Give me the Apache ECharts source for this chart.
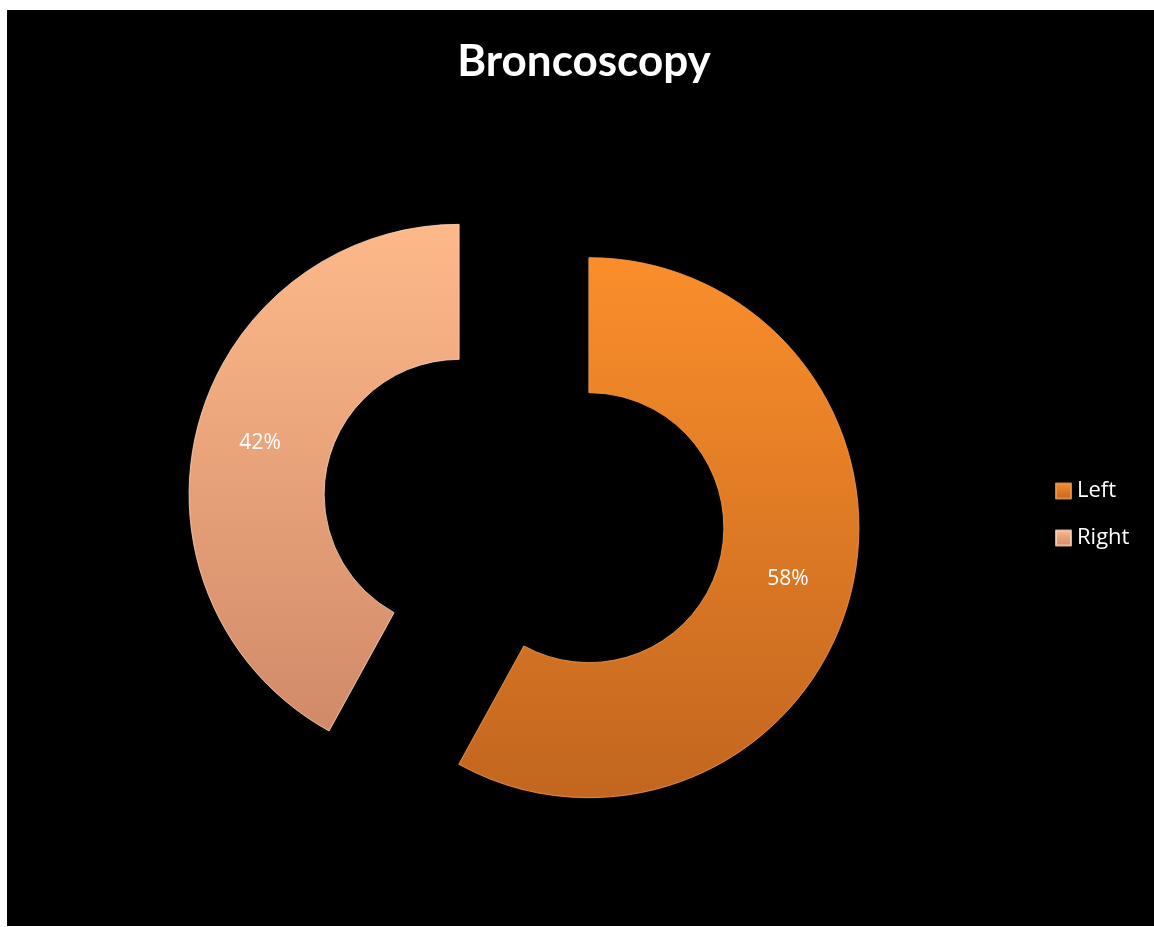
<!DOCTYPE html>
<html>
<head>
<meta charset="utf-8">
<title>Broncoscopy</title>
<script src="https://cdn.jsdelivr.net/npm/echarts@6/dist/echarts.min.js"></script>
<style>
  html, body { margin: 0; padding: 0; background: #fff; }
  #chart { width: 1154px; height: 927px; }
</style>
</head>
<body>
<div id="chart"></div>
<script>
// Bronchoscopy side distribution
const categories = ['Left', 'Right'];
const shares = [58, 42];

const fills = {
  Left:  { top: '#FA8E2B', bottom: '#C2661F', edge: 'rgba(240,150,80,0.85)' },
  Right: { top: '#FDB98A', bottom: '#D18A68', edge: 'rgba(255,215,185,0.8)' }
};

function gradient(c) {
  return new echarts.graphic.LinearGradient(0, 0, 0, 1, [
    { offset: 0, color: c.top },
    { offset: 1, color: c.bottom }
  ]);
}

const chart = echarts.init(document.getElementById('chart'), null, { renderer: 'canvas' });

chart.setOption({
  backgroundColor: '#ffffff',
  animation: false,
  graphic: [{
    type: 'rect',
    z: -10,
    silent: true,
    shape: { x: 7, y: 10, width: 1147, height: 916 },
    style: { fill: '#000000' }
  }],
  title: {
    text: 'Broncoscopy',
    left: 579,
    textAlign: 'center',
    top: 35,
    textStyle: {
      color: '#ffffff',
      fontFamily: 'Lato, "Open Sans", sans-serif',
      fontWeight: 'bold',
      fontSize: 44
    }
  },
  legend: {
    orient: 'vertical',
    left: 1050,
    top: 475,
    itemWidth: 15,
    itemHeight: 15,
    itemGap: 25,
    icon: 'rect',
    selectedMode: false,
    data: categories,
    textStyle: {
      color: '#ffffff',
      fontFamily: '"Open Sans", Lato, sans-serif',
      fontSize: 22,
      padding: [0, 0, 0, 1]
    }
  },
  series: [{
    type: 'pie',
    center: [524, 511],
    radius: [135, 270],
    startAngle: 90,
    clockwise: true,
    selectedMode: 'multiple',
    selectedOffset: 67,
    avoidLabelOverlap: false,
    emphasis: { disabled: true },
    label: {
      show: true,
      position: 'inside',
      formatter: '{d}%',
      color: '#ffffff',
      fontFamily: '"Open Sans", Lato, sans-serif',
      fontSize: 21
    },
    labelLine: { show: false },
    data: categories.map((name, i) => ({
      name: name,
      value: shares[i],
      selected: true,
      itemStyle: {
        color: gradient(fills[name]),
        borderColor: fills[name].edge,
        borderWidth: 1,
        shadowColor: 'rgba(255,255,255,0.08)',
        shadowBlur: 4
      }
    }))
  }]
});
</script>
</body>
</html>
